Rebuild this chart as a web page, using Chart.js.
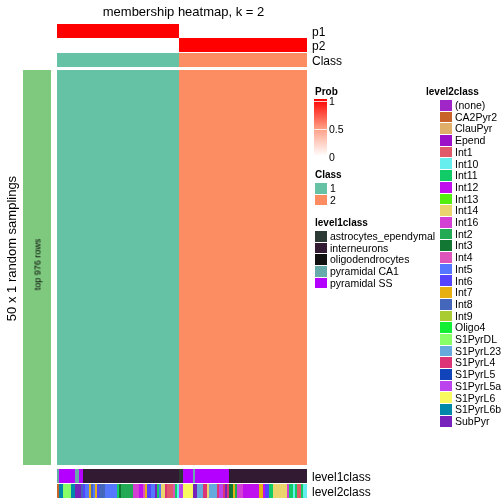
<!DOCTYPE html>
<html>
<head>
<meta charset="utf-8">
<script src="https://cdn.jsdelivr.net/npm/chart.js@4.4.1/dist/chart.umd.min.js"></script>
<style>
  body { margin: 0; background: #fff; }
  #wrap { position: relative; width: 504px; height: 504px; overflow: hidden; font-family: "Liberation Sans", Arial, sans-serif; color: #000; }
  #main { position: absolute; left: 0; top: 0; }
  #rowbar { position: absolute; left: 23px; top: 70px; }
  .t { position: absolute; white-space: nowrap; }
  .sw { position: absolute; }
</style>
</head>
<body>
<div id="wrap">
  <canvas id="main" width="504" height="504"></canvas>
  <canvas id="rowbar" width="28" height="395"></canvas>
</div>
<script>
// --- DATA ---
// columns are samples, given as runs of [value, number of columns]
const classNames = ['1', '2'];
const classColors = ['#66C2A5', '#FC8D62'];
const classRuns = [['1', 61], ['2', 64]];
const p1Runs = [[1, 61], [0, 64]];
const p2Runs = [[0, 61], [1, 64]];

const level1Names = ['astrocytes_ependymal', 'interneurons', 'oligodendrocytes', 'pyramidal CA1', 'pyramidal SS'];
const level1Colors = ['#2B3A35', '#331A33', '#111111', '#66AAAA', '#B300FF'];
const level1Runs = [
    ['pyramidal CA1', 1], ['pyramidal SS', 8], ['pyramidal CA1', 2], ['pyramidal SS', 2], ['interneurons', 48],
    ['astrocytes_ependymal', 2], ['pyramidal SS', 5], ['pyramidal CA1', 1], ['pyramidal SS', 17], ['interneurons', 39]
];

const level2Names = ['(none)', 'CA2Pyr2', 'ClauPyr', 'Epend', 'Int1', 'Int10', 'Int11', 'Int12', 'Int13', 'Int14',
    'Int16', 'Int2', 'Int3', 'Int4', 'Int5', 'Int6', 'Int7', 'Int8', 'Int9', 'Oligo4', 'S1PyrDL', 'S1PyrL23',
    'S1PyrL4', 'S1PyrL5', 'S1PyrL5a', 'S1PyrL6', 'S1PyrL6b', 'SubPyr'];
const level2Colors = ['#A126C8', '#C8642A', '#E0B06A', '#9B10C8', '#E05A6A', '#66EEEE', '#11CC66', '#C010EE', '#55EE11', '#EAD46E',
    '#D43FD4', '#22AA55', '#117733', '#DD55BB', '#5577FF', '#5544FF', '#E6B010', '#4466BB', '#AACC33', '#11EE33', '#88FF66', '#66AADD',
    '#DD3377', '#1144BB', '#BB44EE', '#F8F860', '#0088AA', '#7722BB'];
const level2Runs = [
    ['CA2Pyr2', 1], ['S1PyrL6b', 2], ['S1PyrDL', 4], ['S1PyrL6b', 2], ['SubPyr', 3], ['Int8', 1], ['Int6', 1], ['Int5', 2],
    ['Int7', 1], ['Int8', 1], ['Int5', 1], ['Int7', 1], ['Int6', 1], ['Int8', 3], ['Int5', 6], ['Int11', 1], ['Int3', 1],
    ['Int2', 6], ['Int16', 3], ['Int12', 2], ['Int4', 1], ['Int7', 1], ['Int6', 2], ['Int5', 2], ['SubPyr', 1], ['Int11', 1],
    ['Int5', 1], ['Int14', 2], ['S1PyrL4', 1], ['Int1', 3], ['Int4', 1], ['Int11', 1], ['Int10', 1],
    ['S1PyrL5a', 2], ['S1PyrL6', 5], ['SubPyr', 2], ['S1PyrL23', 3], ['S1PyrL4', 2], ['Int14', 1], ['S1PyrL23', 4],
    ['S1PyrL4', 1], ['S1PyrL5a', 2], ['S1PyrL4', 1], ['SubPyr', 1], ['S1PyrL4', 1], ['Int3', 2], ['Int7', 1], ['Int2', 1],
    ['Int16', 3], ['Int12', 8], ['Int7', 2], ['Int12', 1], ['Int6', 2], ['Int11', 2], ['Int14', 7], ['Int16', 1],
    ['Int11', 2], ['Int10', 1], ['Int11', 1], ['Int1', 2], ['Int11', 1], ['Int10', 2]
];

const probTicks = ['0', '0.5', '1'];

// --- HELPERS ---
function expand(runs) {
    const out = [];
    runs.forEach(([v, n]) => { for (let i = 0; i < n; i++) out.push(v); });
    return out;
}

// white -> red ramp for the probability tracks
function probColor(p) {
    const g = Math.round(255 * (1 - p));
    return `rgb(255,${g},${g})`;
}

const classCol = expand(classRuns);
const p1Col = expand(p1Runs);
const p2Col = expand(p2Runs);
const level1Col = expand(level1Runs);
const level2Col = expand(level2Runs);
const labels = classCol.map((c, i) => 'S' + (i + 1));

const byName = (names, colors) => name => colors[names.indexOf(name)];
const classColorOf = byName(classNames, classColors);
const level1ColorOf = byName(level1Names, level1Colors);
const level2ColorOf = byName(level2Names, level2Colors);

// vertical span of each track (pixels below the top of the plot area)
// whole pixels + 2px columns so no edge gets anti-aliased
const tracks = [
    { span: [0, 14], colors: p1Col.map(probColor) },
    { span: [14, 28], colors: p2Col.map(probColor) },
    { span: [29, 43], colors: classCol.map(classColorOf) },
    { span: [46, 441], colors: classCol.map(classColorOf) },
    { span: [445, 459], colors: level1Col.map(level1ColorOf) },
    { span: [460, 474], colors: level2Col.map(level2ColorOf) }
];

// --- CHARTS ---
new Chart(document.getElementById('main'), {
    type: 'bar',
    data: {
        labels: labels,
        datasets: tracks.map(tr => ({
            data: labels.map(() => tr.span),
            backgroundColor: tr.colors,
            borderWidth: 0,
            inflateAmount: 0,
            grouped: false,
            barPercentage: 1,
            categoryPercentage: 1
        }))
    },
    options: {
        responsive: false,
        animation: false,
        devicePixelRatio: 1,
        layout: { padding: { left: 57, right: 197, top: 24, bottom: 6 } },
        scales: {
            x: { display: false },
            y: { display: false, min: 0, max: 474, reverse: true }
        },
        plugins: { legend: { display: false }, tooltip: { enabled: false } }
    }
});

new Chart(document.getElementById('rowbar'), {
    type: 'bar',
    data: {
        labels: ['top 976 rows'],
        datasets: [{ data: [1], backgroundColor: '#7FC97F', borderWidth: 0, barPercentage: 1, categoryPercentage: 1 }]
    },
    options: {
        responsive: false,
        animation: false,
        devicePixelRatio: 1,
        layout: { padding: 0 },
        scales: { x: { display: false }, y: { display: false, min: 0, max: 1 } },
        plugins: { legend: { display: false }, tooltip: { enabled: false } }
    }
});

// --- TEXT AND LEGENDS ---
const wrap = document.getElementById('wrap');

function addText(text, x, yc, size, extra) {
    const el = document.createElement('div');
    el.className = 't';
    el.textContent = text;
    el.style.left = x + 'px';
    el.style.top = (yc - size / 2) + 'px';
    el.style.fontSize = size + 'px';
    el.style.lineHeight = size + 'px';
    if (extra) Object.assign(el.style, extra);
    wrap.appendChild(el);
    return el;
}

function addSwatch(x, y, w, h, bg) {
    const el = document.createElement('div');
    el.className = 'sw';
    Object.assign(el.style, { left: x + 'px', top: y + 'px', width: w + 'px', height: h + 'px', background: bg });
    wrap.appendChild(el);
}

// title at (tx, y); swatches start at sx, labels just right of them
function addLegend(title, names, colors, tx, sx, y, step) {
    addText(title, tx, y, 10, { fontWeight: 'bold' });
    names.forEach((n, i) => {
        const yc = y + 13.3 + i * step;
        addSwatch(sx, yc - step / 2 + 0.5, 12, step - 1, colors[i]);
        addText(n, sx + 15, yc, 10.5);
    });
}

addText('membership heatmap, k = 2', 183.5, 11.5, 13, { transform: 'translateX(-50%)' });
addText('p1', 312, 31.5, 12);
addText('p2', 312, 45.5, 12);
addText('Class', 312, 60.5, 12);
addText('level1class', 312, 476.5, 12);
addText('level2class', 312, 491.5, 12);
addText('50 x 1 random samplings', 11, 248, 13, { transform: 'translate(-50%,0) rotate(-90deg)' });
addText('top 976 rows', 38, 264, 9, { transform: 'translate(-50%,0) rotate(-90deg)' });

// probability colour key
addText('Prob', 315, 91.5, 10, { fontWeight: 'bold' });
addSwatch(314, 99, 13, 57, 'linear-gradient(to bottom, #ff0000, #ff9a80 50%, #ffffff)');
addSwatch(314, 101, 13, 1, 'rgba(255,255,255,0.8)');
addSwatch(314, 129, 13, 1, 'rgba(255,255,255,0.8)');
probTicks.slice().reverse().forEach((t, i) => addText(t, 329, 101.5 + i * 28, 10.5));

addLegend('Class', classNames, classColors, 315, 315, 175, 11.7);
addLegend('level1class', level1Names, level1Colors, 315, 315, 223, 11.7);
addLegend('level2class', level2Names, level2Colors, 426, 440, 92, 11.7);
</script>
</body>
</html>
